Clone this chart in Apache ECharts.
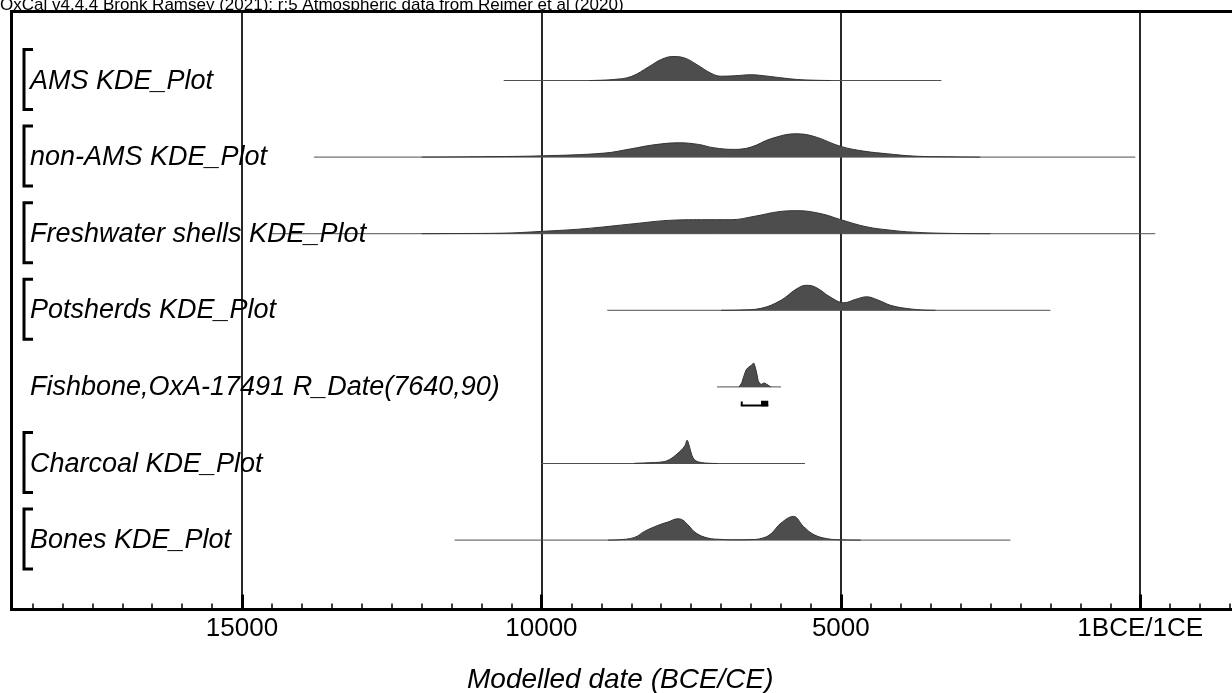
<!DOCTYPE html>
<html>
<head>
<meta charset="utf-8">
<title>OxCal multi plot</title>
<script src="https://cdn.jsdelivr.net/npm/echarts@6.0.0/dist/echarts.min.js"></script>
<style>
html, body { margin: 0; padding: 0; background: #fff; }
#chart { width: 1232px; height: 693px; }
</style>
</head>
<body>
<div id="chart"></div>
<script>
// values, years BCE (negative = CE)
var rowLabels = ['AMS KDE_Plot', 'non-AMS KDE_Plot', 'Freshwater shells KDE_Plot', 'Potsherds KDE_Plot',
    'Fishbone,OxA-17491 R_Date(7640,90)', 'Charcoal KDE_Plot', 'Bones KDE_Plot'];
var rowIsGroup = [true, true, true, true, false, true, true];
var rowRanges = [[10630, 3320], [13800, 83], [14500, -250], [8900, 1500], [7067, 6000], [10000, 5600], [11450, 2167]];

// relative probability (same scale for all rows)
var amsKde = [[9200,0],[8800,1],[8500,4],[8200,14],[8000,21],[7800,24],[7600,22.3],[7400,15.7],[7170,7.3],[7000,4.3],
    [6780,4.7],[6500,5.7],[6220,4.3],[6000,2.7],[5720,1],[5450,0.3],[5170,0]];
var nonAmsKde = [[12000,0],[11000,0.4],[9970,1.3],[8950,4],[8500,8.3],[8120,12.3],[7700,14.3],[7380,12.7],[7120,9.3],
    [6780,7.7],[6500,10],[6170,18.3],[5750,23.3],[5450,20.7],[5000,10.7],[4620,6],[4220,3.3],[3780,1],[3220,0.3],[2670,0]];
var freshKde = [[12000,0],[11330,0.2],[10670,0.5],[10000,2.3],[9280,5],[8450,10],[7880,13.3],[7330,14],[6830,14],
    [6450,17.3],[6000,22.3],[5720,23],[5330,20],[5000,14],[4580,7],[4170,3.5],[3780,1.5],[3170,0.3],[2500,0]];
var potKde = [[7000,0],[6670,0.3],[6330,2],[6000,10],[5750,21],[5580,25],[5420,23],[5170,13],[4950,7.5],[4750,11],
    [4570,13.5],[4370,10],[4170,5],[3920,2],[3670,0.5],[3420,0]];
var fishDist = [[6700,0],[6655,4],[6620,10.7],[6585,16.7],[6555,19],[6530,17.3],[6500,21.3],[6455,24],[6430,20],
    [6400,12.3],[6380,5.7],[6335,2.3],[6280,4],[6240,2.7],[6210,0.7],[6170,0]];
var charKde = [[8450,0.2],[8220,0.7],[7970,1.7],[7860,4],[7780,7.3],[7695,11.7],[7640,15],[7600,18.3],[7567,23.3],
    [7540,19.3],[7512,13.3],[7470,6],[7420,2.7],[7330,1],[7220,0.3],[7055,0]];
var bonesKde = [[8890,0],[8720,0.3],[8445,2.7],[8280,8.7],[8055,14.7],[7890,18],[7720,21.3],[7640,20],[7555,15.3],
    [7417,7],[7220,2],[7000,0.7],[6780,0.3],[6500,0.5],[6305,2],[6167,6.3],[6000,17],[5790,23.7],[5625,13.7],
    [5445,5.3],[5220,1.3],[5000,0.3],[4670,0]];
var rowData = [amsKde, nonAmsKde, freshKde, potKde, fishDist, charKde, bonesKde];

// fishbone hpd ranges
var fishRange95 = [6655, 6212];
var fishRange68 = [6333, 6212];

var tickValues = [15000, 10000, 5000, 0];
var tickLabels = ['15000', '10000', '5000', '1BCE/1CE'];

var FONT = 'Liberation Sans, Arial, Helvetica, sans-serif';
var AXMIN = -2000, AXMAX = 18850;
var GL = 11.5, GR = -28, GT = 11.5, GB = 83.5;
var ROW0 = 80.5, ROWGAP = 76.6;

var chart = echarts.init(document.getElementById('chart'), null, {renderer: 'canvas'});

var grids = [
    {left: GL, right: GR, top: GT, bottom: GB, show: true, borderColor: '#000', borderWidth: 3, outerBoundsMode: 'none'},
    {left: -57.4, right: -207.6, top: GT, bottom: GB, outerBoundsMode: 'none'}
];
var xAxes = [
    {gridIndex: 0, type: 'value', inverse: true, min: AXMIN, max: AXMAX, interval: 500,
        axisLine: {show: false}, axisLabel: {show: false}, splitLine: {show: false},
        axisTick: {show: true, inside: true, length: 6, lineStyle: {color: '#000', width: 1.5}}},
    {gridIndex: 1, type: 'value', inverse: true, min: -5000, max: 20000, interval: 5000,
        axisLine: {show: false},
        axisTick: {show: true, inside: true, length: 15, lineStyle: {color: '#000', width: 3}},
        splitLine: {show: true, lineStyle: {color: '#111', width: 1.8}},
        axisLabel: {show: true, margin: 6, color: '#000', fontSize: 26, fontFamily: FONT,
            formatter: function (v) {
                var i = tickValues.indexOf(v);
                return i >= 0 ? tickLabels[i] : '';
            }}}
];
var yAxes = [
    {gridIndex: 0, type: 'value', show: false, min: 0, max: 1},
    {gridIndex: 1, type: 'value', show: false, min: 0, max: 1}
];
var series = [];
var graphics = [];

rowLabels.forEach(function (name, k) {
    var base = ROW0 + ROWGAP * k;
    var gi = grids.length;
    grids.push({left: GL, right: GR, top: base - 30, height: 50, outerBoundsMode: 'none'});
    xAxes.push({gridIndex: gi, type: 'value', inverse: true, min: AXMIN, max: AXMAX, show: false});
    yAxes.push({gridIndex: gi, type: 'value', min: -20, max: 30, show: false});

    series.push({
        type: 'line', xAxisIndex: gi, yAxisIndex: gi, symbol: 'none', z: 3,
        data: [[rowRanges[k][0], 0], [rowRanges[k][1], 0]],
        lineStyle: {color: '#505050', width: 1}
    });
    series.push({
        type: 'line', xAxisIndex: gi, yAxisIndex: gi, symbol: 'none', z: 4,
        smooth: rowIsGroup[k] ? 0.4 : false,
        data: rowData[k],
        lineStyle: {color: '#333', width: 1},
        areaStyle: {color: '#4d4d4d', opacity: 1}
    });

    if (!rowIsGroup[k]) {
        series.push({
            type: 'line', xAxisIndex: gi, yAxisIndex: gi, symbol: 'none', z: 5,
            data: [[fishRange95[0], -14.5], [fishRange95[0], -18.7], [fishRange95[1], -18.7]],
            lineStyle: {color: '#000', width: 2, cap: 'butt', join: 'miter'}
        });
        series.push({
            type: 'line', xAxisIndex: gi, yAxisIndex: gi, symbol: 'none', z: 5,
            data: [[fishRange68[0], -16.5], [fishRange68[1], -16.5]],
            lineStyle: {color: '#000', width: 5.5, cap: 'butt'}
        });
    } else {
        graphics.push({
            type: 'polyline', z: 10,
            shape: {points: [[33, base - 31], [24, base - 31], [24, base + 29], [33, base + 29]]},
            style: {stroke: '#000', lineWidth: 3, fill: null}
        });
    }
    graphics.push({
        type: 'text', left: 30, top: base - 13, z: 10,
        style: {text: name, fill: '#000', font: 'italic 27px ' + FONT}
    });
});

graphics.push({
    type: 'text', left: 0, top: -3, z: 10,
    style: {text: 'OxCal v4.4.4 Bronk Ramsey (2021); r:5 Atmospheric data from Reimer et al (2020)',
        fill: '#000', font: '17px ' + FONT}
});
graphics.push({
    type: 'text', left: 467, top: 666, z: 10,
    style: {text: 'Modelled date (BCE/CE)', fill: '#000', font: 'italic 28px ' + FONT}
});

chart.setOption({
    animation: false,
    backgroundColor: '#fff',
    grid: grids,
    xAxis: xAxes,
    yAxis: yAxes,
    series: series,
    graphic: graphics
});
</script>
</body>
</html>
